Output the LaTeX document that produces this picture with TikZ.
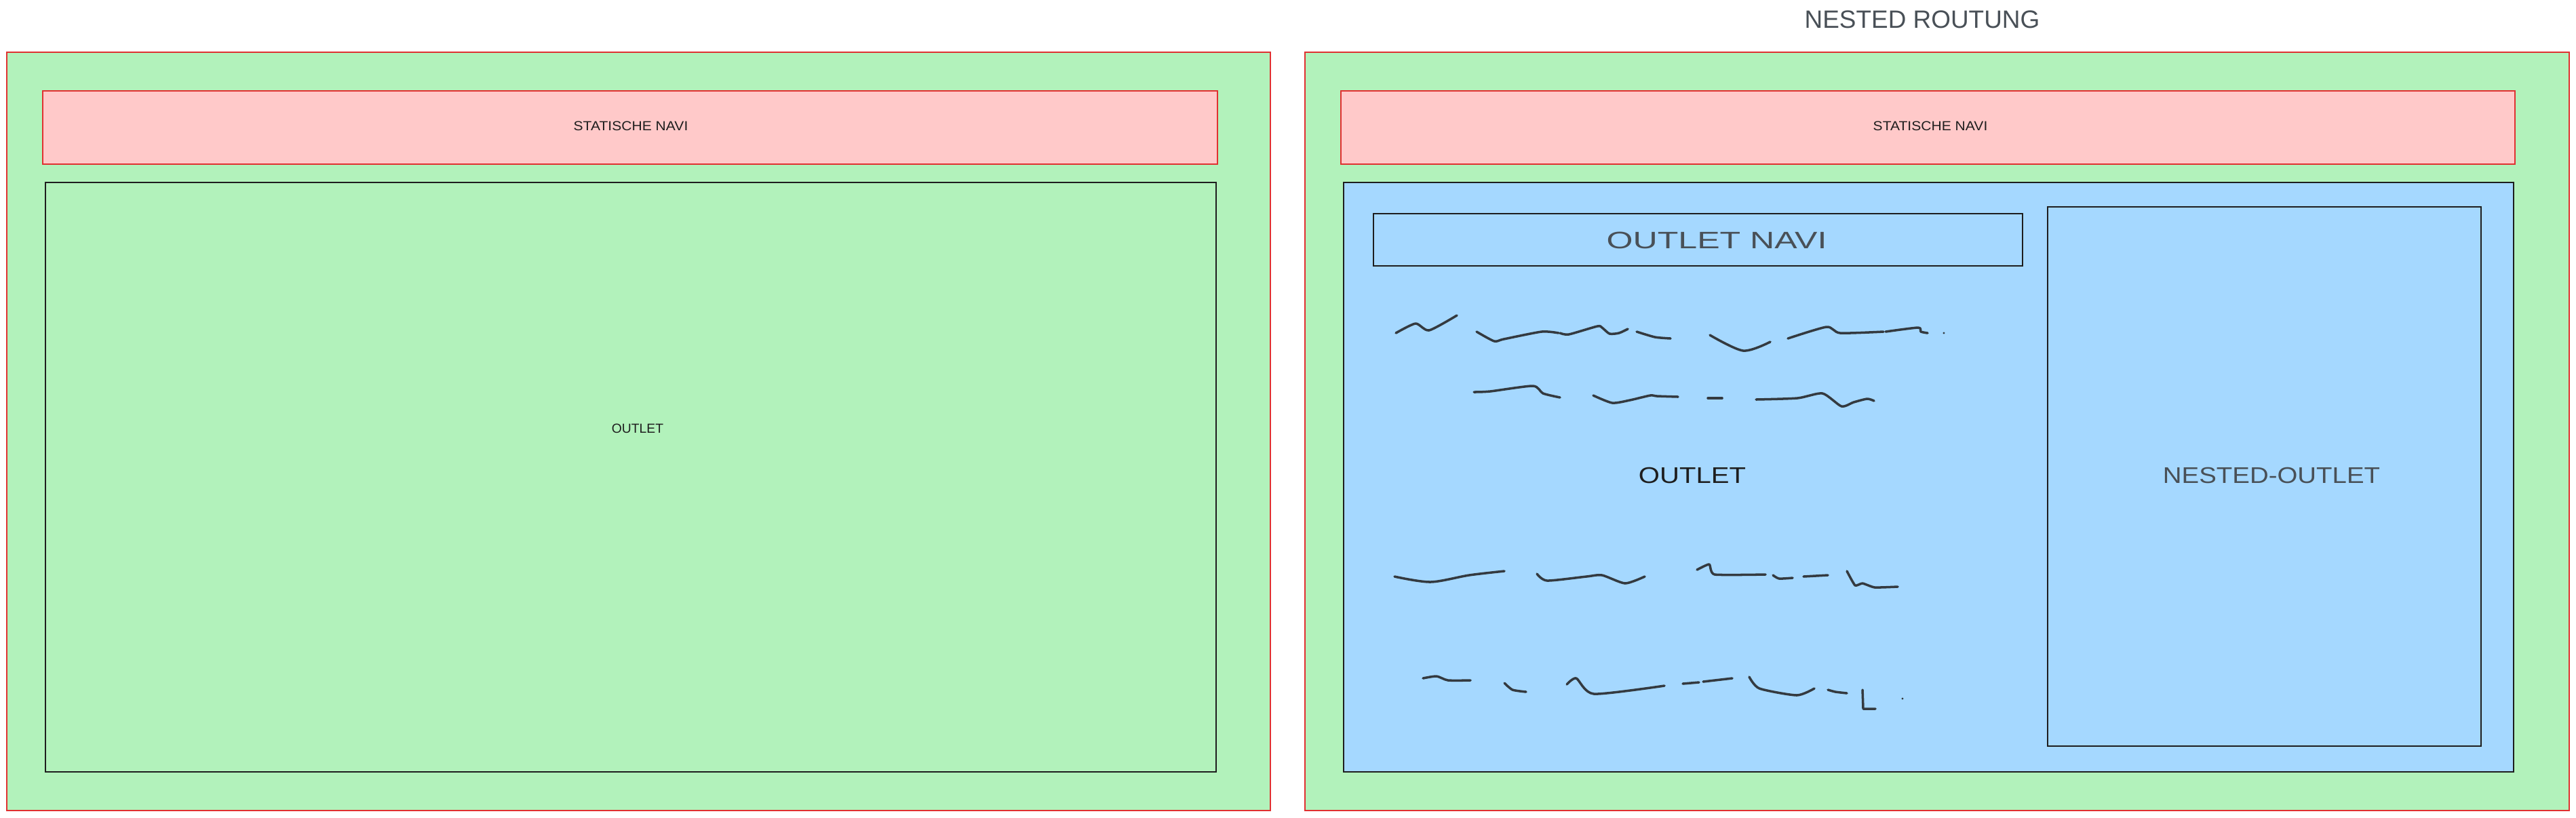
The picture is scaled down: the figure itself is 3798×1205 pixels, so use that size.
\documentclass[tikz,border=0pt]{standalone}
\usepackage{fontspec}
\setmainfont{Liberation Sans}
\usepackage{tikz}
\definecolor{frgreen}{HTML}{B2F2BB}
\definecolor{frpink}{HTML}{FFC9C9}
\definecolor{frblue}{HTML}{A5D8FF}
\definecolor{frred}{HTML}{E03131}
\definecolor{ink}{HTML}{1E1E1E}
\definecolor{pencil}{HTML}{343A40}
\definecolor{graytxt}{HTML}{495057}

\begin{document}
\begin{tikzpicture}[x=0.01cm,y=-0.01cm,line width=0.5pt,
  smalltxt/.style={text=ink,inner sep=0pt,font=\fontsize{5.5}{6}\selectfont},
  bigtxt/.style={text=graytxt,inner sep=0pt,font=\fontsize{9.5}{11}\selectfont},
  scribble/.style={pencil,line width=1pt,line cap=round,line join=round}]
\useasboundingbox (0,0) rectangle (3798,1205);

%%Frames
\draw[frred,fill=frgreen] (10,77) rectangle (1873,1195);
\draw[frred,fill=frgreen] (1924,77) rectangle (3788,1195);
\draw[frred,fill=frpink] (63,134) rectangle (1795,242);
\draw[frred,fill=frpink] (1977,134) rectangle (3708,242);
\draw[ink] (67,269) rectangle (1793,1138);
\draw[ink,fill=frblue] (1981,269) rectangle (3706,1138);
\draw[ink] (2025,315) rectangle (2982,392);
\draw[ink] (3019,305) rectangle (3658,1100);

%%Label
\node[bigtxt,font=\fontsize{10.5}{12}\selectfont] (title) at (2834,29) {NESTED ROUTUNG};
\node[smalltxt] (navileft) at (930,186) {\scalebox{1.09}[1]{STATISCHE NAVI}};
\node[smalltxt] (naviright) at (2846,186) {\scalebox{1.09}[1]{STATISCHE NAVI}};
\node[smalltxt] (outletleft) at (940,632) {OUTLET};
\node[bigtxt] (outletnavi) at (2531,354) {\scalebox{1.5}[1.05]{OUTLET NAVI}};
\node[bigtxt,text=ink] (outlet) at (2495,701) {\scalebox{1.2}[1]{OUTLET}};
\node[bigtxt] (nested) at (3349,701) {\scalebox{1.15}[1]{NESTED-OUTLET}};

%%Scribbles
\draw[scribble] plot[smooth,tension=0.4] coordinates {(2058,491) (2087,477) (2107,487) (2148,465)};
\draw[scribble] plot[smooth,tension=0.4] coordinates {(2177,489) (2203,503) (2217,500) (2273,489) (2298,491)};
\draw[scribble] plot[smooth,tension=0.4] coordinates {(2300,491) (2313,493) (2355,481) (2362,483) (2373,492) (2387,491) (2400,485)};
\draw[scribble] plot[smooth,tension=0.4] coordinates {(2413,489) (2440,497) (2463,499)};
\draw[scribble] plot[smooth,tension=0.5] coordinates {(2521,494) (2570,517) (2610,504)};
\draw[scribble] plot[smooth,tension=0.4] coordinates {(2636,499) (2693,482) (2713,491) (2777,489)};
\draw[scribble] plot[smooth,tension=0.4] coordinates {(2780,489) (2828,483) (2832,489) (2842,491)};
\fill[pencil] (2866,491) circle (1.6);

\draw[scribble] plot[smooth,tension=0.4] coordinates {(2173,578) (2197,577) (2260,569) (2275,580) (2300,586)};
\draw[scribble] plot[smooth,tension=0.4] coordinates {(2349,583) (2377,594) (2403,590) (2433,583) (2443,584) (2474,585)};
\draw[scribble] (2518,587) -- (2539,587);
\draw[scribble] plot[smooth,tension=0.4] coordinates {(2589,589) (2650,587) (2687,580) (2715,599) (2733,593) (2753,588) (2763,591)};

\draw[scribble] plot[smooth,tension=0.5] coordinates {(2056,850) (2109,858) (2166,848) (2218,842)};
\draw[scribble] plot[smooth,tension=0.4] coordinates {(2266,846) (2281,856) (2339,850) (2362,848) (2396,860) (2425,850)};
\draw[scribble] plot[smooth,tension=0.3] coordinates {(2502,840) (2520,832) (2528,847) (2603,847)};
\draw[scribble] plot[smooth,tension=0.4] coordinates {(2614,848) (2623,853) (2643,852)};
\draw[scribble] (2659,850) -- (2695,848);
\draw[scribble] plot[smooth,tension=0.3] coordinates {(2723,842) (2735,863) (2746,860) (2764,866) (2798,865)};

\draw[scribble] plot[smooth,tension=0.4] coordinates {(2098,1000) (2118,997) (2135,1003) (2168,1003)};
\draw[scribble] plot[smooth,tension=0.4] coordinates {(2218,1007) (2230,1017) (2250,1020)};
\draw[scribble] plot[smooth,tension=0.4] coordinates {(2310,1009) (2324,1000) (2350,1023) (2454,1011)};
\draw[scribble] (2481,1008) -- (2505,1006);
\draw[scribble] (2511,1005) -- (2554,1000);
\draw[scribble] plot[smooth,tension=0.4] coordinates {(2579,998) (2594,1015) (2649,1025) (2675,1015)};
\draw[scribble] plot[smooth,tension=0.4] coordinates {(2695,1017) (2706,1020) (2723,1022)};
\draw[scribble] (2746,1017) -- (2747,1045) -- (2765,1045);
\fill[pencil] (2805,1030) circle (1.6);
\end{tikzpicture}
\end{document}
